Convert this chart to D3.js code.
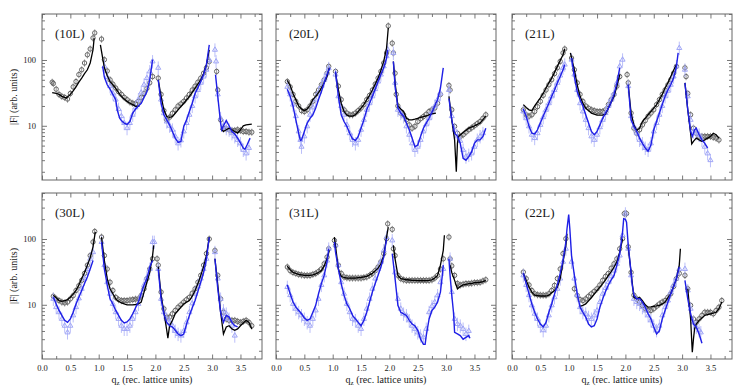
<!DOCTYPE html>
<html>
<head>
<meta charset="utf-8">
<script src="https://cdn.jsdelivr.net/npm/d3@7"></script>
<style>
  body { margin: 0; background: #fff; }
  svg text { font-family: "Liberation Serif", "Times New Roman", serif; fill: #1a1a1a; }
</style>
</head>
<body>
<div id="chart"></div>
<script>
// tick labels
var xTickVals = [0, 0.5, 1.0, 1.5, 2.0, 2.5, 3.0, 3.5];
var xTickLabels = ["0.0", "0.5", "1.0", "1.5", "2.0", "2.5", "3.0", "3.5"];
var xMinorVals = [0.25, 0.75, 1.25, 1.75, 2.25, 2.75, 3.25, 3.75];
var yTickVals = [10, 100];
var yTickLabels = ["10", "100"];
var yMinorVals = [2, 3, 4, 5, 6, 7, 8, 9, 20, 30, 40, 50, 60, 70, 80, 90, 200, 300, 400, 500];
var panelNames = ["(10L)", "(20L)", "(21L)", "(30L)", "(31L)", "(22L)"];

// ---- (10L) ----
var circ10 = [[0.18,46],[0.2,44],[0.25,36],[0.3,30],[0.35,28],[0.4,27],[0.45,25.5],[0.5,31],[0.55,39],[0.6,47],[0.65,60],[0.7,71],[0.75,90],[0.8,120],[0.85,147],[0.9,216],[0.93,258],
  [1.05,208],[1.1,101],[1.15,68],[1.2,50],[1.25,43],[1.3,37.5],[1.35,33],[1.4,30],[1.45,27],[1.5,25],[1.55,23],[1.6,22],[1.65,21.7],[1.7,23.5],[1.75,27],[1.8,31],[1.85,37],[1.9,45],[1.95,56],
  [2.05,53],[2.1,30],[2.15,17],[2.2,12.3],[2.25,13.5],[2.3,15.5],[2.35,17.5],[2.4,20],[2.45,21.5],[2.5,23.5],[2.55,26.5],[2.6,30],[2.65,35],[2.7,40],[2.75,46],[2.8,53],[2.85,63],[2.9,76],[2.95,95],
  [3.08,67],[3.1,35],[3.15,12.3],[3.2,9.2],[3.25,9],[3.3,8.7],[3.35,8.5],[3.4,8.5],[3.45,8.7],[3.5,8.5],[3.55,8.2],[3.6,8.2],[3.65,8],[3.7,8]];
var fit10 = [[0.18,32],[0.25,31],[0.3,30],[0.35,28],[0.4,27],[0.43,26.5],[0.5,30],[0.55,34],[0.6,39],[0.65,46],[0.7,53],[0.75,62],[0.8,71],[0.85,90],[0.9,143],[0.92,215], null,
  [1.03,170],[1.1,76],[1.15,58],[1.2,47],[1.25,42],[1.3,37],[1.35,32],[1.4,28],[1.45,25.5],[1.5,23.5],[1.55,22],[1.6,21],[1.65,19.7],[1.72,20], null,
  [2.05,50],[2.1,28],[2.15,17.5],[2.2,13.8],[2.25,13.4],[2.3,13.8],[2.35,15.5],[2.4,17.5],[2.5,22],[2.6,28],[2.7,37.5],[2.8,50],[2.85,62],[2.9,85],[2.95,143], null,
  [3.15,9],[3.2,8.2],[3.25,8.7],[3.3,9.2],[3.35,8.7],[3.4,8.2],[3.45,7.7],[3.5,8.7],[3.55,10],[3.6,10.3],[3.7,10.6]];
var tri10 = [[1.1,80],[1.15,55],[1.2,40],[1.25,31],[1.3,25],[1.35,18],[1.4,14],[1.45,11],[1.5,9.2],[1.55,11],[1.6,14.7],[1.65,19],[1.7,25],[1.75,32],[1.8,42],[1.85,53],[1.9,67],[1.95,95],
  [2.05,76],[2.1,25],[2.15,15.5],[2.2,11.6],[2.25,10],[2.3,8.7],[2.35,6.9],[2.4,5.4],[2.45,6],[2.5,8.2],[2.55,11],[2.6,14.7],[2.65,20],[2.7,28],[2.75,35],[2.8,45],[2.85,56],[2.9,71],[2.95,100],
  [3.05,143],[3.07,95],[3.1,30],[3.15,13],[3.2,10],[3.25,9.2],[3.3,8.7],[3.35,7.7],[3.4,6.9],[3.45,6.1],[3.5,5.4],[3.55,4.3],[3.6,3.8],[3.65,4.6]];
var blue10 = [[1.07,80],[1.1,55],[1.15,42],[1.2,36],[1.25,30],[1.3,25],[1.33,17],[1.37,13],[1.4,12],[1.45,11],[1.5,10.5],[1.55,11.6],[1.6,15.6],[1.65,18],[1.7,20],[1.75,22],[1.8,27],[1.85,33],[1.9,50],[1.95,101], null,
  [2.05,50],[2.1,22],[2.15,14.7],[2.2,12.3],[2.25,10.3],[2.3,8.2],[2.35,6.5],[2.4,5.6],[2.45,5.8],[2.5,9.8],[2.55,12.3],[2.6,16.5],[2.65,22],[2.7,31],[2.75,38],[2.8,47],[2.85,60],[2.9,85],[2.95,170], null,
  [3.06,60],[3.1,28],[3.15,11],[3.17,8.7],[3.2,10],[3.25,12],[3.3,10],[3.35,8.2],[3.4,7.5],[3.45,6.5],[3.5,5.5],[3.55,4.6],[3.58,4.4],[3.62,5.2],[3.67,6.5]];

// ---- (20L) ----
var circ20 = [[0.2,47],[0.25,39],[0.3,30],[0.35,23.5],[0.4,20],[0.45,17],[0.5,16.5],[0.55,17.5],[0.6,20],[0.65,23.5],[0.7,30],[0.75,35],[0.8,42],[0.85,50],[0.9,63],[0.93,80],
  [1.05,67],[1.1,40],[1.15,25],[1.2,17.5],[1.25,15.6],[1.3,14.7],[1.35,14.7],[1.4,15.6],[1.45,17],[1.5,18.6],[1.55,21],[1.6,25],[1.65,29],[1.7,35],[1.75,43],[1.8,53],[1.85,67],[1.9,90],[1.95,128],[1.98,330],
  [2.05,180],[2.07,128],[2.1,63],[2.12,30],[2.15,20],[2.2,15.6],[2.25,14.7],[2.3,12.3],[2.35,10.3],[2.4,9.2],[2.45,9.8],[2.5,11.6],[2.55,12.8],[2.6,13.8],[2.65,15],[2.7,16.5],[2.75,17.5],[2.8,18.6],[2.85,22],[2.9,30],
  [3.05,41],[3.07,35],[3.1,17.5],[3.15,9.8],[3.2,7.7],[3.25,6.9],[3.3,7.3],[3.35,8],[3.4,8.7],[3.45,9.3],[3.5,10],[3.55,10.8],[3.6,11.6],[3.65,13],[3.7,14.7]];
var fit20 = [[0.2,49],[0.25,41],[0.3,31],[0.35,25],[0.4,20],[0.45,18],[0.5,17],[0.55,18],[0.6,20.5],[0.65,25],[0.7,28],[0.75,32],[0.8,37.5],[0.85,45],[0.9,56],[0.94,76], null,
  [1.05,63],[1.1,35],[1.15,22],[1.2,16.5],[1.25,14.5],[1.3,14],[1.35,14],[1.4,14.7],[1.45,16.5],[1.5,18.6],[1.55,21],[1.6,25],[1.65,29],[1.7,35],[1.75,43],[1.8,53],[1.85,70],[1.9,95],[1.95,152],[1.98,307], null,
  [2.07,95],[2.1,45],[2.15,20],[2.2,18],[2.25,16.5],[2.3,13],[2.35,12.3],[2.4,12.3],[2.45,12.6],[2.5,13],[2.55,13.4],[2.6,13.8],[2.65,14.2],[2.7,14.7],[2.75,15.2],[2.82,15.6], null,
  [3.05,28],[3.1,12.3],[3.15,6.1],[3.18,2.0],[3.2,5.4],[3.22,6.9],[3.3,7.9],[3.4,9.2],[3.5,10],[3.6,11],[3.7,14]];
var tri20 = [[0.2,39],[0.25,30],[0.3,21],[0.35,14],[0.4,8.2],[0.43,6.1],[0.45,4.8],[0.5,6.9],[0.55,9.8],[0.6,14.7],[0.65,19],[0.7,25],[0.75,32],[0.8,40],[0.85,50],[0.9,63],[0.93,75],
  [1.05,60],[1.1,28],[1.15,20],[1.2,14.7],[1.25,10.3],[1.3,7.7],[1.35,6.1],[1.4,5.4],[1.45,6.1],[1.5,8.7],[1.55,12.3],[1.6,17.5],[1.65,22],[1.7,28],[1.75,36],[1.8,47],[1.85,60],[1.9,80],[1.95,114],[1.97,144],
  [2.07,128],[2.1,45],[2.15,17.5],[2.2,15.6],[2.25,13.9],[2.3,9.8],[2.35,7.3],[2.4,5.4],[2.45,4.3],[2.5,4.8],[2.55,6.1],[2.6,8.2],[2.65,10.5],[2.7,13],[2.75,16],[2.8,20],[2.85,25],[2.9,31],
  [3.05,35],[3.1,14],[3.15,8.7],[3.2,6.9],[3.25,5.9],[3.3,4.3],[3.35,3.4],[3.4,3.6],[3.45,3.8],[3.5,4.8],[3.55,6.1],[3.6,6.9],[3.65,7.7]];
var blue20 = [[0.2,36],[0.25,28],[0.3,20],[0.35,12.3],[0.4,7.7],[0.43,6],[0.45,6.1],[0.5,8.2],[0.55,11],[0.6,13],[0.65,14.7],[0.7,18.6],[0.75,25],[0.8,33],[0.85,45],[0.9,60],[0.95,76], null,
  [1.05,67],[1.1,28],[1.15,14.7],[1.2,11.6],[1.25,9.8],[1.3,7.7],[1.35,6.3],[1.4,6],[1.45,6.9],[1.5,9.2],[1.55,12.3],[1.6,17.5],[1.65,22],[1.7,28],[1.75,36],[1.8,47],[1.85,60],[1.9,76],[1.95,107],[1.97,143], null,
  [2.07,95],[2.1,40],[2.15,18.6],[2.2,15.6],[2.25,14],[2.3,11],[2.35,8.7],[2.4,6.5],[2.45,4.8],[2.5,5.1],[2.55,6.9],[2.6,9.2],[2.65,11],[2.7,13],[2.75,16],[2.8,20],[2.85,25],[2.9,37.5],[2.95,76], null,
  [3.05,26],[3.1,12.3],[3.15,7.7],[3.2,6.9],[3.25,5.4],[3.3,3.2],[3.35,3.0],[3.4,3.4],[3.45,4],[3.5,5.4],[3.55,6.1],[3.6,6.1],[3.65,6.9],[3.7,9.2]];

// ---- (21L) ----
var circ21 = [[0.2,17.5],[0.25,14.7],[0.3,14],[0.35,14.7],[0.4,16.5],[0.45,19.5],[0.5,23.5],[0.55,29],[0.6,35],[0.65,42],[0.7,50],[0.75,62],[0.8,76],[0.85,95],[0.9,128],[0.93,147],
  [1.05,107],[1.1,71],[1.15,45],[1.2,30],[1.25,23.5],[1.3,20],[1.35,18.5],[1.4,17.5],[1.45,17],[1.5,16.5],[1.55,16.5],[1.6,16.5],[1.65,17.5],[1.7,21],[1.75,25],[1.8,30],[1.85,40],[1.9,56],
  [2.03,60],[2.05,45],[2.1,15.6],[2.15,9.2],[2.2,7.7],[2.25,8.7],[2.3,10.3],[2.35,12],[2.4,14],[2.45,15.6],[2.5,17.5],[2.55,21],[2.6,25],[2.65,30],[2.7,35],[2.75,42],[2.8,50],[2.85,63],[2.9,80],
  [3.05,76],[3.07,56],[3.1,31],[3.15,14.7],[3.2,9.2],[3.25,7.7],[3.3,6.9],[3.35,6.9],[3.4,6.9],[3.45,6.9],[3.5,6.9],[3.55,6.7],[3.6,6.5],[3.65,6.1]];
var fit21 = [[0.2,21],[0.25,19],[0.3,17.5],[0.35,17],[0.4,20],[0.45,23],[0.5,26.5],[0.55,31],[0.6,37.5],[0.65,45],[0.7,53],[0.75,65],[0.8,80],[0.85,98],[0.9,120],[0.93,147], null,
  [1.03,128],[1.1,71],[1.15,42],[1.2,28],[1.25,22],[1.3,18.6],[1.35,17],[1.4,15.6],[1.45,15],[1.5,14.5],[1.55,14.5],[1.6,14.5],[1.65,15],[1.7,18.6],[1.75,23],[1.8,28],[1.85,40],[1.9,60], null,
  [2.05,42],[2.1,15.6],[2.15,10.3],[2.2,8.5],[2.25,9.2],[2.3,11.6],[2.35,13],[2.4,14.7],[2.45,16.5],[2.5,18.6],[2.55,21],[2.6,25],[2.65,30],[2.7,37.5],[2.75,45],[2.8,56],[2.85,70],[2.9,85], null,
  [3.05,45],[3.1,17.5],[3.15,7.7],[3.17,5.3],[3.2,5.8],[3.25,6.5],[3.3,6.1],[3.35,5.8],[3.4,6.1],[3.45,6.5],[3.5,6.9],[3.55,7.7],[3.6,7.3],[3.65,6.5]];
var tri21 = [[0.2,16.5],[0.25,13],[0.3,9.8],[0.35,7.3],[0.4,6.5],[0.45,7.7],[0.5,10.3],[0.55,13.5],[0.6,17.5],[0.65,22],[0.7,28],[0.75,35],[0.8,45],[0.85,58],[0.9,76],[0.93,85],
  [1.05,101],[1.1,60],[1.15,35],[1.2,22],[1.25,16.5],[1.3,12.3],[1.35,9.2],[1.4,6.9],[1.45,6.1],[1.5,7.3],[1.55,9.5],[1.6,12.3],[1.65,15.6],[1.7,20],[1.75,25],[1.8,31],[1.85,45],[1.9,80],[1.95,101],
  [2.05,40],[2.1,14],[2.15,9.8],[2.2,7.7],[2.25,6.1],[2.3,5.4],[2.35,4.6],[2.4,4.3],[2.45,5.4],[2.5,8.2],[2.55,11],[2.6,14.7],[2.65,20],[2.7,28],[2.75,34],[2.8,42],[2.85,56],[2.9,80],[2.95,152],
  [3.05,71],[3.1,28],[3.15,12.3],[3.2,8.2],[3.25,7.7],[3.3,7.3],[3.35,6.1],[3.4,4.8],[3.45,3.8],[3.5,3.0]];
var blue21 = [[0.2,18],[0.25,14],[0.3,9.8],[0.35,7.7],[0.4,7.5],[0.45,8.7],[0.5,11],[0.55,14],[0.6,17.5],[0.65,22],[0.7,28],[0.75,35],[0.8,45],[0.85,56],[0.9,71],[0.93,85], null,
  [1.05,107],[1.1,56],[1.15,33],[1.2,25],[1.25,20],[1.3,14.7],[1.35,11],[1.4,8.2],[1.45,7.3],[1.5,8.2],[1.55,10.3],[1.6,13],[1.65,15.6],[1.7,18.6],[1.75,23],[1.8,30],[1.85,45],[1.9,76], null,
  [2.05,42],[2.1,12.3],[2.15,9.8],[2.2,8.2],[2.25,6.5],[2.3,5.4],[2.35,4.6],[2.4,4.1],[2.45,5.1],[2.5,8.7],[2.55,11.6],[2.6,15.6],[2.65,21],[2.7,28],[2.75,35],[2.8,42],[2.85,53],[2.9,80],[2.93,128], null,
  [3.05,45],[3.1,17.5],[3.15,8.2],[3.18,6.9],[3.22,8.7],[3.25,9.2],[3.3,7.3],[3.35,6.1],[3.4,5.4],[3.45,4.6]];

// ---- (30L) ----
var circ30 = [[0.2,13.5],[0.25,12.3],[0.3,11.6],[0.35,11],[0.4,10.7],[0.45,11],[0.5,12.3],[0.55,13.8],[0.6,16.5],[0.65,19.5],[0.7,23.5],[0.75,30],[0.8,40],[0.85,56],[0.9,90],[0.93,130],
  [1.05,107],[1.1,56],[1.15,35],[1.2,22],[1.25,16.5],[1.3,13],[1.35,12],[1.4,11.6],[1.45,11.6],[1.5,11.6],[1.55,11.8],[1.6,12],[1.65,12.2],[1.7,12.3],[1.75,13.9],[1.8,17.5],[1.85,25],[1.9,35],[1.95,50],
  [2.03,50],[2.05,40],[2.1,15.6],[2.15,8.7],[2.2,6.5],[2.25,6.5],[2.3,7.3],[2.35,8.2],[2.4,9.2],[2.45,10],[2.5,11],[2.55,12],[2.6,13],[2.65,15],[2.7,17.5],[2.75,22],[2.8,28],[2.85,40],[2.9,60],[2.95,100],
  [3.05,67],[3.1,28],[3.15,12.3],[3.2,7.7],[3.25,6.1],[3.3,5.8],[3.35,5.8],[3.4,5.8],[3.45,5.6],[3.5,5.4],[3.55,5.6],[3.6,5.8],[3.65,5.4],[3.7,4.8]];
var fit30 = [[0.2,14],[0.25,12.8],[0.3,11.6],[0.35,11.3],[0.4,11.6],[0.45,12],[0.5,13],[0.55,14.5],[0.6,16.5],[0.65,20],[0.7,25],[0.75,31],[0.8,40],[0.85,52],[0.9,76],[0.94,128], null,
  [1.05,107],[1.1,47],[1.15,25],[1.2,17.5],[1.25,14.7],[1.3,12.3],[1.35,11.3],[1.4,10.7],[1.45,10.3],[1.5,10],[1.55,10],[1.6,10],[1.65,10.1],[1.7,10.3],[1.75,11],[1.8,15.6],[1.85,22],[1.9,31],[1.95,56],[1.97,80], null,
  [2.05,38],[2.1,14],[2.15,7.7],[2.2,4.1],[2.22,3.1],[2.25,4.8],[2.3,5.8],[2.35,7.3],[2.4,8.2],[2.45,9.2],[2.5,10.3],[2.55,11],[2.6,11.6],[2.65,13.5],[2.7,16.5],[2.75,21],[2.8,28],[2.85,38],[2.9,56],[2.95,107], null,
  [3.05,50],[3.1,20],[3.15,7.7],[3.2,3.6],[3.25,4.6],[3.3,4.8],[3.35,4.3],[3.4,4.1],[3.45,4.3],[3.5,4.8],[3.55,5.3],[3.6,5.8],[3.65,5.4],[3.7,4.3]];
var tri30 = [[0.2,12.3],[0.25,9.2],[0.3,7.7],[0.35,6.1],[0.4,4.8],[0.45,3.8],[0.5,4.8],[0.55,6.9],[0.6,9.2],[0.65,12.5],[0.7,17.5],[0.75,25],[0.8,35],[0.85,50],[0.9,63],
  [1.05,90],[1.1,40],[1.15,22],[1.2,14.7],[1.25,10.3],[1.3,7.7],[1.35,6.1],[1.4,4.8],[1.45,4.3],[1.5,4.3],[1.55,4.8],[1.6,6.1],[1.65,7.7],[1.7,10.3],[1.75,14],[1.8,20],[1.85,26],[1.9,35],[1.95,90],[1.98,90],
  [2.05,35],[2.1,12.3],[2.15,7.7],[2.2,6.1],[2.25,5.4],[2.3,4.8],[2.35,4],[2.4,3.6],[2.45,3.4],[2.5,4],[2.55,5.4],[2.6,7.7],[2.65,10.5],[2.7,14.7],[2.75,19],[2.8,25],[2.85,35],[2.9,50],
  [3.05,63],[3.1,25],[3.15,12.3],[3.2,8.2],[3.25,7.3],[3.3,6.1],[3.35,4.8],[3.4,3.4]];
var blue30 = [[0.2,13],[0.25,10.3],[0.3,8.2],[0.35,6.9],[0.4,5.8],[0.45,5.4],[0.5,6.1],[0.55,7.7],[0.6,10.3],[0.65,13],[0.7,16.5],[0.75,21],[0.8,26.5],[0.85,35],[0.9,47], null,
  [1.05,90],[1.1,35],[1.15,20],[1.2,12.3],[1.25,10.3],[1.3,8.2],[1.35,6.9],[1.4,5.8],[1.45,5.3],[1.5,5.5],[1.55,6.1],[1.6,7.3],[1.65,9],[1.7,11],[1.75,15],[1.8,20],[1.85,25],[1.9,37.5],[1.95,47], null,
  [2.05,35],[2.1,12.3],[2.15,7.3],[2.2,5.4],[2.25,4.8],[2.3,4.6],[2.35,4.1],[2.4,3.6],[2.45,3.4],[2.5,3.6],[2.55,5.1],[2.6,6.9],[2.65,9],[2.7,11.6],[2.75,16],[2.8,22],[2.85,31],[2.9,50],[2.95,107], null,
  [3.05,50],[3.1,17.5],[3.15,7.7],[3.2,5.4],[3.25,6.9],[3.3,6.5],[3.35,5.4],[3.4,4.8],[3.45,4.6]];

// ---- (31L) ----
var circ31 = [[0.2,37.5],[0.25,33],[0.3,31],[0.35,30],[0.4,29],[0.45,28.5],[0.5,28],[0.55,28],[0.6,28],[0.65,29],[0.7,30],[0.75,32],[0.8,35],[0.85,42],[0.9,53],[0.93,71],
  [1.03,95],[1.05,80],[1.1,40],[1.15,30],[1.2,26.5],[1.25,25.8],[1.3,25.5],[1.35,25.5],[1.4,25.5],[1.45,25.5],[1.5,25.5],[1.55,26],[1.6,26.5],[1.65,28],[1.7,30],[1.75,33],[1.8,37.5],[1.85,45],[1.9,60],[1.95,101],[1.97,170],
  [2.05,140],[2.07,71],[2.1,56],[2.15,28],[2.2,25],[2.25,24],[2.3,23.5],[2.35,23.5],[2.4,23.5],[2.45,23.5],[2.5,23.5],[2.55,23.5],[2.6,23.5],[2.65,23.5],[2.7,23.5],[2.75,24],[2.8,25.5],[2.85,28],[2.9,35],[2.95,50],
  [3.05,107],[3.07,50],[3.1,39],[3.15,28],[3.2,21],[3.25,20],[3.3,20.5],[3.35,21],[3.4,21],[3.45,21.3],[3.5,21.7],[3.55,21.8],[3.6,22],[3.65,23],[3.7,24]];
var fit31 = [[0.2,38.6],[0.25,34],[0.3,31],[0.35,30],[0.4,29],[0.45,28.5],[0.5,28],[0.55,28],[0.6,28],[0.65,28.5],[0.7,29.5],[0.75,31],[0.8,33],[0.85,39],[0.9,50],[0.94,67], null,
  [1.03,107],[1.1,35],[1.15,27],[1.2,26],[1.25,25.5],[1.3,25.5],[1.35,25.5],[1.4,25.5],[1.45,25.8],[1.5,26],[1.55,26.5],[1.6,27],[1.65,28.5],[1.7,30],[1.75,33],[1.8,36],[1.85,42],[1.9,56],[1.95,107],[1.98,152], null,
  [2.07,80],[2.1,50],[2.15,28],[2.2,25],[2.25,24.5],[2.3,24],[2.35,23.8],[2.4,23.5],[2.45,23.5],[2.5,23.3],[2.55,23.3],[2.6,23.3],[2.65,23.3],[2.7,23.5],[2.75,24],[2.8,25.5],[2.85,28],[2.9,40],[2.95,67],[2.97,114], null,
  [3.07,40],[3.1,31],[3.15,23.5],[3.2,17.5],[3.25,19],[3.3,20],[3.35,20.5],[3.4,21],[3.45,21],[3.5,21.7],[3.55,21.8],[3.6,22],[3.65,22.5],[3.7,23.5]];
var tri31 = [[0.2,18.6],[0.25,14],[0.3,10.3],[0.35,8.7],[0.4,7.7],[0.45,6.9],[0.5,6.1],[0.55,5.4],[0.6,4.8],[0.65,6.1],[0.7,8.2],[0.75,12.3],[0.8,20],[0.85,28],[0.9,47],[0.93,71],
  [1.05,80],[1.1,40],[1.15,22],[1.2,14.7],[1.25,10.3],[1.3,7.7],[1.35,6.1],[1.4,5.8],[1.45,4.8],[1.5,4.3],[1.55,6.1],[1.6,8.7],[1.65,12.3],[1.7,17.5],[1.75,25],[1.8,35],[1.85,45],[1.9,67],[1.95,107],
  [2.05,95],[2.1,31],[2.15,12.3],[2.2,8.7],[2.25,7.3],[2.3,6.9],[2.35,5.8],[2.4,4.8],[2.45,4.3],[2.5,3.8],[2.55,3.4],[2.6,3.2],[2.65,4.3],[2.7,7.7],[2.75,9.5],[2.8,11],[2.85,13.9],[2.9,22],[2.95,35],
  [3.07,50],[3.1,15.6],[3.15,6.1],[3.2,5.1],[3.25,4.8],[3.3,4.3],[3.35,3.6],[3.4,4]];
var blue31 = [[0.2,20],[0.25,14.7],[0.3,11],[0.35,9.2],[0.4,8.2],[0.45,7.3],[0.5,6.3],[0.55,5.8],[0.6,6.1],[0.65,7.7],[0.7,9.8],[0.75,14.7],[0.8,21],[0.85,28],[0.9,45],[0.93,71], null,
  [1.03,90],[1.05,63],[1.1,35],[1.15,21],[1.2,14],[1.25,10.3],[1.3,8.7],[1.35,6.9],[1.4,6.1],[1.45,5.4],[1.5,4.8],[1.55,5.8],[1.6,7.7],[1.65,11],[1.7,15.6],[1.75,21],[1.8,28],[1.85,37.5],[1.9,53],[1.95,101], null,
  [2.05,60],[2.1,25],[2.15,9.8],[2.2,7.7],[2.25,7.3],[2.3,6.9],[2.35,5.8],[2.4,5.1],[2.45,4.8],[2.5,4.1],[2.55,3],[2.6,2.5],[2.63,2.5],[2.65,3.4],[2.7,6.1],[2.75,8.2],[2.8,9.2],[2.85,11],[2.9,15.6],[2.93,26.5],[2.95,40], null,
  [3.05,50],[3.07,28],[3.1,14],[3.13,7.7],[3.15,3.8],[3.2,3.6],[3.25,3.4],[3.3,3],[3.35,3.2],[3.4,3.4],[3.42,3.1]];

// ---- (22L) ----
var circ22 = [[0.2,31.4],[0.25,25],[0.3,20],[0.35,16.5],[0.4,14.7],[0.45,14.2],[0.5,14],[0.55,14],[0.6,14],[0.65,14.7],[0.7,16.5],[0.75,19.7],[0.8,25],[0.85,35],[0.9,60],[0.95,101],
  [1.1,17.5],[1.15,13.9],[1.2,12],[1.25,11.6],[1.3,12.3],[1.35,13.5],[1.4,14.7],[1.45,16],[1.5,17.5],[1.55,20],[1.6,23.5],[1.65,27],[1.7,30],[1.75,36],[1.8,42],[1.85,50],[1.9,71],[1.95,101],[1.98,243],
  [2.02,243],[2.05,76],[2.1,31],[2.15,14],[2.2,12.3],[2.25,11],[2.3,9.8],[2.35,8.7],[2.4,8.2],[2.45,8.2],[2.5,8.7],[2.55,9.5],[2.6,10.3],[2.65,11],[2.7,11.6],[2.75,13],[2.8,14.7],[2.85,19],[2.9,25],[2.95,30],
  [3.05,28],[3.1,17.5],[3.15,9.8],[3.2,6.1],[3.25,5.4],[3.3,6.1],[3.35,6.9],[3.4,7.7],[3.45,7.7],[3.5,7.7],[3.55,7.3],[3.6,8.2],[3.65,9.2],[3.7,11.6]];
var fit22 = [[0.2,30],[0.25,23.5],[0.3,18.6],[0.35,15.6],[0.4,14],[0.45,13.8],[0.5,13.6],[0.55,13.6],[0.6,13.6],[0.65,14],[0.7,15.2],[0.75,16.5],[0.8,18.6],[0.85,25],[0.9,45],[0.95,80],[0.97,120], null,
  [1.2,9.5],[1.25,9.8],[1.3,10.3],[1.35,11.5],[1.4,12.8],[1.45,14.5],[1.5,16.5],[1.55,18.6],[1.6,21],[1.65,24],[1.7,28],[1.75,32],[1.8,37.5],[1.85,45],[1.9,63],[1.95,100], null,
  [2.05,75],[2.1,31],[2.15,13],[2.2,12.3],[2.25,13],[2.3,11.6],[2.35,10],[2.4,9.2],[2.45,9.3],[2.5,9.5],[2.55,9.6],[2.6,9.8],[2.65,10.3],[2.7,11],[2.75,12.8],[2.8,14.7],[2.85,19],[2.9,25],[2.95,40],[2.97,71], null,
  [3.1,17.5],[3.15,6.1],[3.18,1.9],[3.2,3],[3.22,4.3],[3.25,5.1],[3.3,5.8],[3.35,6.3],[3.4,6.9],[3.45,7.1],[3.5,7.3],[3.55,7.5],[3.6,7.7],[3.65,8.7],[3.7,11]];
var tri22 = [[0.2,28],[0.25,20],[0.3,14],[0.35,9.8],[0.4,7.3],[0.45,6.1],[0.5,4.8],[0.55,4.1],[0.6,4.8],[0.65,6.9],[0.7,9.8],[0.75,13],[0.8,17.5],[0.85,25],[0.9,45],[0.95,71],
  [1.05,45],[1.1,25],[1.15,14],[1.2,9.2],[1.25,7.7],[1.3,7.3],[1.35,6.5],[1.4,6.1],[1.45,6.9],[1.5,8.2],[1.55,11],[1.6,14.7],[1.65,18],[1.7,22],[1.75,27],[1.8,33],[1.85,42],[1.9,56],[1.95,114],[2.0,243],
  [2.05,71],[2.1,28],[2.15,12.3],[2.2,11],[2.25,10.3],[2.3,9.2],[2.35,8.2],[2.4,6.9],[2.45,5.8],[2.5,4.8],[2.55,4.1],[2.6,4.8],[2.65,6.9],[2.7,9.2],[2.75,11.6],[2.8,15.6],[2.85,20],[2.9,25],[2.95,35],
  [3.05,35],[3.1,16.5],[3.15,8.7],[3.2,5.4],[3.25,4.6],[3.3,4.1],[3.33,3.8]];
var blue22 = [[0.2,30],[0.25,21],[0.3,14.7],[0.35,10.3],[0.4,7.7],[0.45,6.1],[0.5,5.1],[0.55,4.6],[0.6,5.4],[0.65,7.7],[0.7,10.3],[0.75,14.5],[0.8,20],[0.85,30],[0.9,47],[0.95,90],[0.97,143],[1.0,235],[1.02,143],
  [1.05,56],[1.1,28],[1.15,14.7],[1.2,9.2],[1.25,7.7],[1.3,6.5],[1.35,5.1],[1.4,4.6],[1.45,4.8],[1.5,6.1],[1.55,9.2],[1.6,12.3],[1.65,16],[1.7,20],[1.75,24],[1.8,28],[1.85,40],[1.9,60],[1.95,128],[1.97,204],[2.0,200],[2.02,180],
  [2.05,80],[2.1,31],[2.12,20],[2.15,14],[2.2,12.3],[2.25,12.5],[2.3,11],[2.35,9.2],[2.4,7.3],[2.45,6.1],[2.5,4.6],[2.55,3.6],[2.6,4],[2.65,6.1],[2.7,8.2],[2.75,11],[2.8,14.7],[2.85,19],[2.9,25],[2.95,37.5], null,
  [3.05,23.5],[3.1,12.3],[3.15,7.3],[3.2,5.1],[3.25,4.6],[3.3,3.6],[3.35,2.6]];

var panels = [
  {name: panelNames[0], col: 0, row: 0, circ: circ10, fit: fit10, tri: tri10, blue: blue10},
  {name: panelNames[1], col: 1, row: 0, circ: circ20, fit: fit20, tri: tri20, blue: blue20},
  {name: panelNames[2], col: 2, row: 0, circ: circ21, fit: fit21, tri: tri21, blue: blue21},
  {name: panelNames[3], col: 0, row: 1, circ: circ30, fit: fit30, tri: tri30, blue: blue30},
  {name: panelNames[4], col: 1, row: 1, circ: circ31, fit: fit31, tri: tri31, blue: blue31},
  {name: panelNames[5], col: 2, row: 1, circ: circ22, fit: fit22, tri: tri22, blue: blue22}
];

var serif = "'Liberation Serif', 'Times New Roman', serif";

var colLeft = [42, 276, 512],
    rowTop = [14, 193],
    pw = 220, ph = 166;

var svg = d3.select("#chart").append("svg")
    .attr("width", 747)
    .attr("height", 388);

var x = d3.scaleLinear().domain([0, 3.88]).range([0, pw]);
var y = d3.scaleLog().domain([1.5, 500]).range([ph, 0]);

var line = d3.line()
    .defined(function (d) { return d !== null; })
    .x(function (d) { return x(d[0]); })
    .y(function (d) { return y(d[1]); });

var triSym = d3.symbol().type(d3.symbolTriangle).size(11);

svg.append("defs").append("clipPath").attr("id", "clip")
    .append("rect").attr("width", pw).attr("height", ph);

panels.forEach(function (p) {
    var g = svg.append("g")
        .attr("transform", "translate(" + colLeft[p.col] + "," + rowTop[p.row] + ")");

    // ticks, all pointing inward
    var bottomMajor = d3.axisBottom(x).tickValues(xTickVals).tickSizeInner(-4.5).tickSizeOuter(0).tickPadding(6)
        .tickFormat(function (d, i) { return p.row === 1 ? xTickLabels[i] : ""; });
    g.append("g").attr("transform", "translate(0," + ph + ")").call(bottomMajor);
    g.append("g").attr("transform", "translate(0," + ph + ")")
        .call(d3.axisBottom(x).tickValues(xMinorVals).tickSizeInner(-3).tickSizeOuter(0).tickFormat(""));
    g.append("g").call(d3.axisTop(x).tickValues(xTickVals).tickSizeInner(-4.5).tickSizeOuter(0).tickFormat(""));
    g.append("g").call(d3.axisTop(x).tickValues(xMinorVals).tickSizeInner(-3).tickSizeOuter(0).tickFormat(""));

    g.append("g").call(d3.axisLeft(y).tickValues(yTickVals).tickSizeInner(-5).tickSizeOuter(0).tickPadding(6)
        .tickFormat(function (d, i) { return p.col === 0 ? yTickLabels[i] : ""; }));
    g.append("g").call(d3.axisLeft(y).tickValues(yMinorVals).tickSizeInner(-3).tickSizeOuter(0).tickFormat(""));
    g.append("g").attr("transform", "translate(" + pw + ",0)")
        .call(d3.axisRight(y).tickValues(yTickVals).tickSizeInner(-5).tickSizeOuter(0).tickFormat(""));
    g.append("g").attr("transform", "translate(" + pw + ",0)")
        .call(d3.axisRight(y).tickValues(yMinorVals).tickSizeInner(-3).tickSizeOuter(0).tickFormat(""));

    g.selectAll(".domain").remove();
    g.selectAll(".tick line").attr("stroke", "#555").attr("stroke-width", 0.8);
    g.selectAll(".tick text")
        .attr("font-family", serif)
        .style("font-family", serif)
        .style("font-size", "8.5px")
        .attr("fill", "#222");

    var plot = g.append("g").attr("clip-path", "url(#clip)");

    // measured circles with small error bars
    plot.append("g").selectAll("line").data(p.circ).enter().append("line")
        .attr("x1", function (d) { return x(d[0]); })
        .attr("x2", function (d) { return x(d[0]); })
        .attr("y1", function (d) { return y(d[1] * 0.88); })
        .attr("y2", function (d) { return y(d[1] * 1.13); })
        .attr("stroke", "#6a6a6a").attr("stroke-width", 0.7);
    plot.append("g").selectAll("circle").data(p.circ).enter().append("circle")
        .attr("cx", function (d) { return x(d[0]); })
        .attr("cy", function (d) { return y(d[1]); })
        .attr("r", 2.2)
        .attr("fill", "none")
        .attr("stroke", "#666")
        .attr("stroke-width", 1);

    // measured triangles with error bars
    plot.append("g").selectAll("line").data(p.tri).enter().append("line")
        .attr("x1", function (d) { return x(d[0]); })
        .attr("x2", function (d) { return x(d[0]); })
        .attr("y1", function (d) { return y(d[1] * 0.78); })
        .attr("y2", function (d) { return y(d[1] * 1.25); })
        .attr("stroke", "#a9aef7").attr("stroke-width", 0.8);
    plot.append("g").selectAll("path").data(p.tri).enter().append("path")
        .attr("d", triSym)
        .attr("transform", function (d) { return "translate(" + x(d[0]) + "," + y(d[1]) + ")"; })
        .attr("fill", "none")
        .attr("stroke", "#a0a6f6")
        .attr("stroke-width", 1);

    // fits
    plot.append("path").datum(p.fit)
        .attr("fill", "none").attr("stroke", "#000").attr("stroke-width", 1.3)
        .attr("d", line);
    plot.append("path").datum(p.blue)
        .attr("fill", "none").attr("stroke", "#1f1fe6").attr("stroke-width", 1.4)
        .attr("d", line);

    g.append("rect")
        .attr("width", pw).attr("height", ph)
        .attr("fill", "none").attr("stroke", "#666").attr("stroke-width", 1);

    g.append("text")
        .attr("x", 13).attr("y", 24)
        .style("font-family", serif)
        .style("font-size", "13px")
        .text(p.name);

    if (p.row === 1) {
        var t = g.append("text")
            .attr("x", pw / 2).attr("y", ph + 24)
            .attr("text-anchor", "middle")
            .style("font-family", serif)
            .style("font-size", "10px");
        t.append("tspan").text("q");
        t.append("tspan").attr("dy", 2).style("font-size", "7px").text("z");
        t.append("tspan").attr("dy", -2).text(" (rec. lattice units)");
    }
    if (p.col === 0) {
        g.append("text")
            .attr("transform", "translate(-25," + (ph / 2) + ") rotate(-90)")
            .attr("text-anchor", "middle")
            .style("font-family", serif)
            .style("font-size", "10px")
            .text("|F| (arb. units)");
    }
});
</script>
</body>
</html>
